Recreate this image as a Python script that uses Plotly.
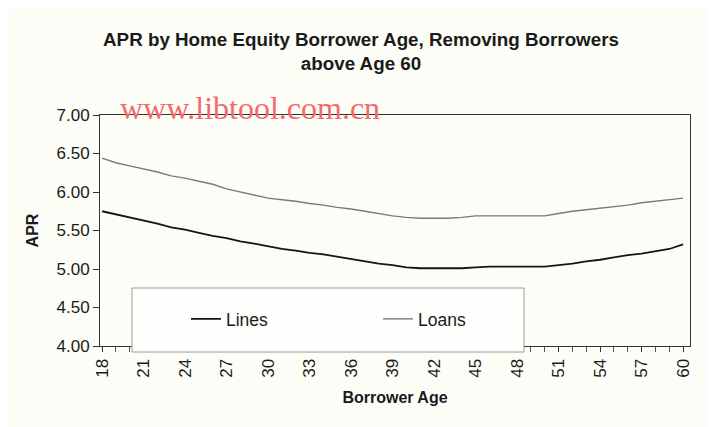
import plotly.graph_objects as go

ages = list(range(18, 61))
lines_apr = [5.75, 5.71, 5.67, 5.63, 5.59, 5.54, 5.51, 5.47, 5.43, 5.40,
             5.36, 5.33, 5.29, 5.26, 5.24, 5.21, 5.19, 5.16, 5.13, 5.10,
             5.07, 5.05, 5.02, 5.01, 5.01, 5.01, 5.01, 5.02, 5.03, 5.03,
             5.03, 5.03, 5.03, 5.05, 5.07, 5.10, 5.12, 5.15, 5.18, 5.20,
             5.23, 5.26, 5.32]
loans_apr = [6.44, 6.38, 6.34, 6.30, 6.26, 6.21, 6.18, 6.14, 6.10, 6.04,
             6.00, 5.96, 5.92, 5.90, 5.88, 5.85, 5.83, 5.80, 5.78, 5.75,
             5.72, 5.69, 5.67, 5.66, 5.66, 5.66, 5.67, 5.69, 5.69, 5.69,
             5.69, 5.69, 5.69, 5.72, 5.75, 5.77, 5.79, 5.81, 5.83, 5.86,
             5.88, 5.90, 5.92]
y_ticks = [4.0, 4.5, 5.0, 5.5, 6.0, 6.5, 7.0]
y_ticklabels = ["4.00", "4.50", "5.00", "5.50", "6.00", "6.50", "7.00"]

W, H = 714, 427
OFF = 8  # page offset of the figure
L, T = 100 - OFF, 115 - OFF
R = W - (690 - OFF)
B = H - (346 - OFF)
pw, ph = W - L - R, H - T - B


def px(x):  # page pixel -> paper x
    return (x - OFF - L) / pw


def py(y):  # page pixel -> paper y
    return (H - B - (y - OFF)) / ph


bg = "#fdfdf7"
font = "Liberation Sans, Arial, sans-serif"
txt = "#1a1a1a"

fig = go.Figure()
fig.add_trace(go.Scatter(x=ages, y=lines_apr, mode="lines", name="Lines",
                         line=dict(color="#151515", width=1.8)))
fig.add_trace(go.Scatter(x=ages, y=loans_apr, mode="lines", name="Loans",
                         line=dict(color="#7a7a7a", width=1.4)))

fig.update_layout(
    width=W, height=H,
    margin=dict(l=L, r=R, t=T, b=B),
    paper_bgcolor=bg, plot_bgcolor=bg,
    font=dict(family=font, color=txt),
    title=dict(text="<b>APR by Home Equity Borrower Age, Removing Borrowers<br>above Age 60</b>",
               x=0.5 - OFF / W / 2, xanchor="center", y=(H - 38) / H, yanchor="top",
               font=dict(size=18.8, family=font, color=txt)),
    showlegend=True,
    legend=dict(orientation="h", x=px(186), xanchor="left", y=py(319), yanchor="middle",
                bgcolor="rgba(0,0,0,0)", borderwidth=0,
                entrywidth=147, entrywidthmode="pixels",
                font=dict(size=17.5, family=font, color=txt)),
    xaxis=dict(range=[17.85, 60.5], tickmode="linear", tick0=18, dtick=3,
               tickangle=-90, ticks="outside", ticklen=5, tickcolor="#333",
               tickfont=dict(size=17, family=font, color=txt),
               showline=True, linecolor="#333", linewidth=1, mirror=True,
               showgrid=False, zeroline=False, automargin=False,
               minor=dict(dtick=1, tick0=18, ticks="outside", ticklen=5, tickcolor="#555", showgrid=False),
               title=dict(text="<b>Borrower Age</b>", font=dict(size=16, family=font, color=txt),
                          standoff=15)),
    yaxis=dict(range=[4.0, 7.0], tickvals=y_ticks, ticktext=y_ticklabels,
               ticks="outside", ticklen=6, tickcolor="#333",
               tickfont=dict(size=17, family=font, color=txt),
               showline=True, linecolor="#333", linewidth=1, mirror=True,
               showgrid=False, zeroline=False, automargin=False,
               title=dict(text="<b>APR</b>", font=dict(size=16, family=font, color=txt),
                          standoff=13)),
    shapes=[
        dict(type="rect", xref="paper", yref="paper",
             x0=px(132), x1=px(524), y0=py(352), y1=py(288),
             line=dict(color="#9a9a9a", width=1), fillcolor="#fefefc", layer="above"),
    ],
    annotations=[
        dict(text="www.libtool.com.cn", xref="paper", yref="paper",
             x=px(118), y=py(108), xanchor="left", yanchor="middle", showarrow=False,
             font=dict(family="Liberation Serif, Times New Roman, serif", size=32, color="#f26a6a")),
    ],
)

fig.write_html("out.html")
